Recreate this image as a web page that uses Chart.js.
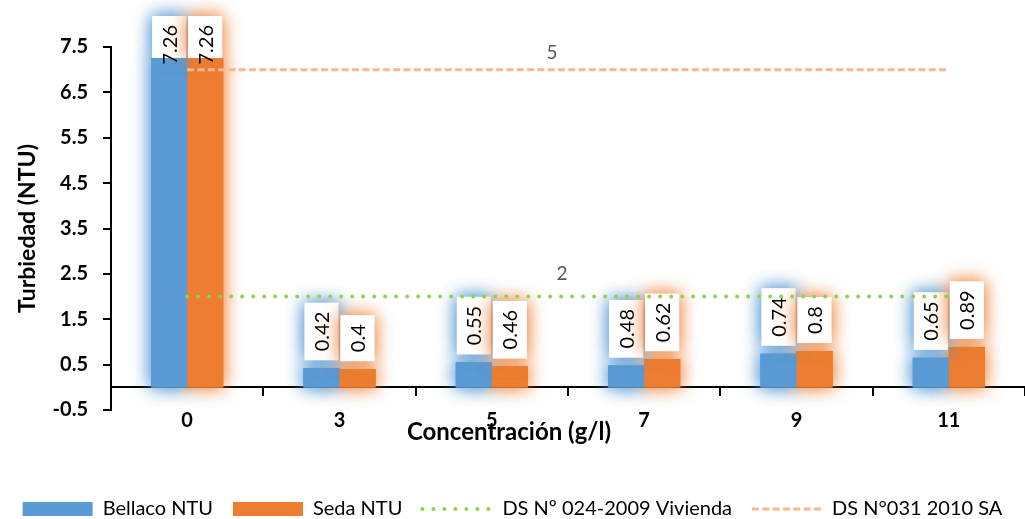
<!DOCTYPE html>
<html>
<head>
<meta charset="utf-8">
<script src="https://cdn.jsdelivr.net/npm/chart.js@4.4.1/dist/chart.umd.min.js"></script>
<style>
    html, body { margin: 0; padding: 0; background: #fff; }
    #caja { width: 1025px; height: 519px; }
</style>
</head>
<body>
<div id="caja"><canvas id="grafico"></canvas></div>
<script>
// Datos
const concentraciones = ['0', '3', '5', '7', '9', '11'];
const bellaco = [7.26, 0.42, 0.55, 0.48, 0.74, 0.65];
const seda = [7.26, 0.4, 0.46, 0.62, 0.8, 0.89];
const limiteVivienda = [2, 2, 2, 2, 2, 2];
const limiteSA = [7, 7, 7, 7, 7, 7];
const etiquetaVivienda = '2';
const etiquetaSA = '5';

const azul = '#5B9BD5';
const naranja = '#ED7D31';
const brillos = ['rgba(91,155,213,0.85)', 'rgba(237,125,49,0.7)'];
const FUENTE = 'Lato, "Noto Sans", sans-serif';

// brillo alrededor de las barras (se pinta antes), etiquetas de valor despues de las barras
const brilloPlugin = {
    id: 'brillo',
    beforeDatasetsDraw(chart) {
        const ctx = chart.ctx;
        [0, 1].forEach(i => {
            chart.getDatasetMeta(i).data.forEach(barra => {
                ctx.save();
                ctx.shadowColor = brillos[i];
                ctx.shadowBlur = 18;
                ctx.fillStyle = i === 0 ? azul : naranja;
                for (let k = 0; k < 2; k++) {
                    ctx.fillRect(barra.x - barra.width / 2, barra.y, barra.width, barra.base - barra.y);
                }
                ctx.restore();
            });
        });
    },
    afterDatasetDraw(chart, args) {
        if (args.index !== 0) return;
        const ctx = chart.ctx;
        const series = [bellaco, seda];
        const topeY = chart.chartArea.top - 31;
        [0, 1].forEach(i => {
            chart.getDatasetMeta(i).data.forEach((barra, j) => {
                const txt = String(series[i][j]);
                ctx.font = '20px ' + FUENTE;
                const tw = ctx.measureText(txt).width;
                const bw = 34, bh = tw + 18;
                let abajo = barra.y - 8;
                let arriba = abajo - bh;
                if (arriba < topeY) { arriba = topeY; abajo = barra.y; }
                ctx.save();
                ctx.shadowColor = brillos[i];
                ctx.shadowBlur = 18;
                ctx.fillStyle = '#fff';
                for (let k = 0; k < 2; k++) {
                    ctx.fillRect(barra.x - bw / 2, arriba, bw, abajo - arriba);
                }
                ctx.restore();
                ctx.save();
                ctx.translate(barra.x, arriba + bh / 2);
                ctx.rotate(-Math.PI / 2);
                ctx.fillStyle = '#000';
                ctx.textAlign = 'center';
                ctx.textBaseline = 'middle';
                ctx.fillText(txt, 0, 1);
                ctx.restore();
            });
        });
    }
};

// etiquetas de las lineas y titulo del eje x
const textosPlugin = {
    id: 'textos',
    afterDraw(chart) {
        const ctx = chart.ctx;
        const area = chart.chartArea;
        ctx.save();
        ctx.font = '19px ' + FUENTE;
        ctx.fillStyle = '#595959';
        ctx.textAlign = 'center';
        ctx.textBaseline = 'middle';
        [[2, etiquetaVivienda, 23, -6], [3, etiquetaSA, 17, -16]].forEach(([idx, txt, dy, dx]) => {
            const pts = chart.getDatasetMeta(idx).data;
            const x = (pts[0].x + pts[pts.length - 1].x) / 2 + dx;
            ctx.fillText(txt, x, pts[0].y - dy);
        });
        ctx.font = 'bold 24px ' + FUENTE;
        ctx.fillStyle = '#000';
        ctx.fillText('Concentración (g/l)', (area.left + area.right) / 2 - 59, area.bottom + 22);
        ctx.restore();
    }
};

const ctx = document.getElementById('grafico').getContext('2d');

new Chart(ctx, {
    type: 'bar',
    data: {
        labels: concentraciones,
        datasets: [
            {
                label: 'Bellaco NTU',
                data: bellaco,
                backgroundColor: azul,
                borderWidth: 0,
                order: 1
            },
            {
                label: 'Seda NTU',
                data: seda,
                backgroundColor: naranja,
                borderWidth: 0,
                order: 1
            },
            {
                type: 'line',
                label: 'DS Nº 024-2009 Vivienda',
                data: limiteVivienda,
                borderColor: '#92D050',
                backgroundColor: '#92D050',
                borderWidth: 4,
                borderDash: [0, 11],
                borderCapStyle: 'round',
                pointRadius: 0,
                fill: false,
                order: 0
            },
            {
                type: 'line',
                label: 'DS N°031 2010 SA',
                data: limiteSA,
                borderColor: '#F7B88B',
                backgroundColor: '#F7B88B',
                borderWidth: 3,
                borderDash: [7, 3.3],
                borderCapStyle: 'butt',
                pointRadius: 0,
                fill: false,
                order: 0
            }
        ]
    },
    options: {
        responsive: true,
        maintainAspectRatio: false,
        animation: false,
        layout: { padding: { top: 47, right: 0, left: 0, bottom: -10 } },
        datasets: {
            bar: { categoryPercentage: 0.473, barPercentage: 1 }
        },
        plugins: {
            tooltip: { enabled: false },
            legend: {
                position: 'bottom',
                labels: {
                    usePointStyle: true,
                    pointStyleWidth: 70,
                    boxHeight: 14,
                    padding: 20,
                    color: '#000',
                    font: { family: FUENTE, size: 20 },
                    sort: (a, b) => a.datasetIndex - b.datasetIndex,
                    generateLabels(chart) {
                        const items = Chart.defaults.plugins.legend.labels.generateLabels(chart);
                        items.forEach(it => {
                            const ds = chart.data.datasets[it.datasetIndex];
                            if (it.datasetIndex < 2) {
                                it.pointStyle = 'rect';
                                it.lineWidth = 0;
                            } else {
                                it.pointStyle = 'line';
                                it.lineWidth = ds.borderWidth;
                                it.lineDash = ds.borderDash;
                                it.lineCap = ds.borderCapStyle;
                                it.strokeStyle = ds.borderColor;
                            }
                        });
                        return items;
                    }
                }
            }
        },
        scales: {
            x: {
                position: { y: 0 },
                grid: {
                    offset: true,
                    drawOnChartArea: false,
                    drawTicks: true,
                    tickLength: 8,
                    color: '#000',
                    lineWidth: 2
                },
                border: { display: true, color: '#000', width: 2 },
                ticks: {
                    color: '#000',
                    padding: 13,
                    font: { family: FUENTE, size: 20, weight: 'bold' }
                }
            },
            // espacio reservado bajo el area (etiquetas y titulo del eje x)
            xEspacio: {
                axis: 'x',
                type: 'category',
                position: 'bottom',
                grid: { display: false, drawTicks: false },
                border: { display: false },
                ticks: { display: false },
                afterFit(scale) { scale.height = 69; }
            },
            y: {
                min: -0.5,
                max: 7.5,
                ticks: {
                    stepSize: 1,
                    color: '#000',
                    padding: 15,
                    font: { family: FUENTE, size: 20, weight: 'bold' }
                },
                grid: {
                    drawOnChartArea: false,
                    drawTicks: true,
                    tickLength: 8,
                    color: '#000',
                    lineWidth: 2
                },
                border: { display: true, color: '#000', width: 2 },
                title: {
                    display: true,
                    text: 'Turbiedad (NTU)',
                    color: '#000',
                    padding: { top: 14 },
                    font: { family: FUENTE, size: 23, weight: 'bold' }
                },
                afterFit(scale) { scale.width = 111; }
            }
        }
    },
    plugins: [brilloPlugin, textosPlugin]
});
</script>
</body>
</html>
